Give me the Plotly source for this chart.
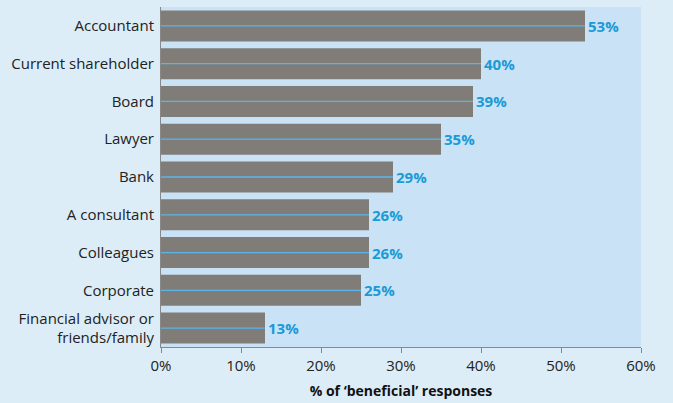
import plotly.graph_objects as go

categories = [
    "Accountant",
    "Current shareholder",
    "Board",
    "Lawyer",
    "Bank",
    "A consultant",
    "Colleagues",
    "Corporate",
    "Financial advisor or<br>friends/family",
]
values = [53, 40, 39, 35, 29, 26, 26, 25, 13]
x_ticks = [0, 10, 20, 30, 40, 50, 60]
x_tick_labels = ["0%", "10%", "20%", "30%", "40%", "50%", "60%"]

FONT = "Open Sans"
OUTER_BG = "#dcedf8"
PLOT_BG = "#c9e2f5"
BAR_GRAY = "#807d79"
LABEL_BLUE = "#1a9ad6"
LINE_BLUE = "#5ab6e8"

fig = go.Figure()

fig.add_trace(go.Bar(
    x=values,
    y=categories,
    orientation="h",
    marker=dict(color=BAR_GRAY, line=dict(width=0)),
    text=[f"{v}%" for v in values],
    textposition="outside",
    textfont=dict(family=FONT, size=15, color=LABEL_BLUE, weight="bold"),
    cliponaxis=False,
    hoverinfo="skip",
))

# thin centre line running along each bar
for cat, v in zip(categories, values):
    fig.add_trace(go.Scatter(
        x=[0, v],
        y=[cat, cat],
        mode="lines",
        line=dict(color=LINE_BLUE, width=1.3),
        hoverinfo="skip",
        showlegend=False,
    ))

fig.update_layout(
    width=673,
    height=403,
    margin=dict(l=161, r=32, t=7, b=56),
    paper_bgcolor=OUTER_BG,
    plot_bgcolor=PLOT_BG,
    showlegend=False,
    bargap=0.18,
    font=dict(family=FONT, size=15, color="#222222"),
    xaxis=dict(
        range=[0, 60],
        tickvals=x_ticks,
        ticktext=x_tick_labels,
        ticks="outside",
        ticklen=5,
        tickcolor="#888888",
        showline=True,
        linecolor="#888888",
        linewidth=1,
        showgrid=False,
        zeroline=False,
        tickfont=dict(family=FONT, size=15, color="#222222"),
        title=dict(
            text="% of ‘beneficial’ responses",
            font=dict(family=FONT, size=14, color="#111111", weight="bold"),
            standoff=12,
        ),
    ),
    yaxis=dict(
        categoryorder="array",
        categoryarray=categories[::-1],
        range=[-0.5, len(categories) - 0.5],
        showline=True,
        linecolor="#888888",
        linewidth=1,
        showgrid=False,
        zeroline=False,
        ticks="",
        ticklabelstandoff=3,
        tickfont=dict(family=FONT, size=15, color="#222222"),
    ),
)

fig.write_html("out.html")
